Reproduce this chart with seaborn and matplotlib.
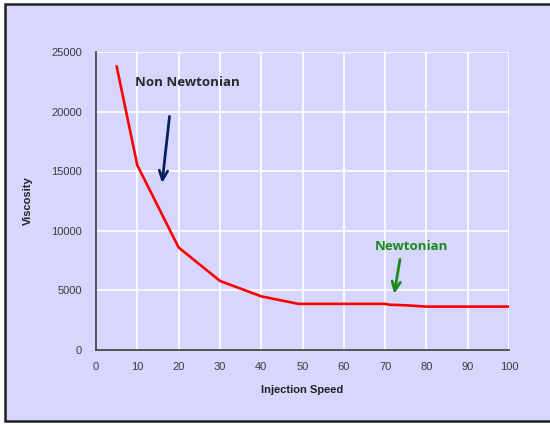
import matplotlib
matplotlib.use("Agg")
import matplotlib.pyplot as plt
from matplotlib.patches import Rectangle
import seaborn as sns
import pandas as pd

# Viscosity curve of the melt versus injection speed
injection_speed = [5, 10, 20, 30, 40, 49, 70, 71, 75, 80, 100]
viscosity = [23800, 15500, 8600, 5800, 4500, 3870, 3870, 3800, 3750, 3640, 3640]

x_ticks = [0, 10, 20, 30, 40, 50, 60, 70, 80, 90, 100]
y_ticks = [0, 5000, 10000, 15000, 20000, 25000]

bg = "#D6D6FE"
axis_col = "#3a3a3a"

sns.set_theme(style="white")
plt.rcParams["font.family"] = ["Liberation Sans", "DejaVu Sans"]

fig = plt.figure(figsize=(5.5, 4.25), dpi=100)
fig.patch.set_facecolor("white")
# lavender panel with a dark frame
fig.patches.append(Rectangle((5 / 550, 4 / 425), 1.0, 417 / 425,
                             transform=fig.transFigure, facecolor=bg,
                             edgecolor="#222222", linewidth=1.8, zorder=-5))

ax = fig.add_axes([96 / 550, 1 - 350 / 425, (509 - 96) / 550, (350 - 52) / 425])
ax.set_zorder(2)
ax.set_facecolor(bg)

df = pd.DataFrame({"Injection Speed": injection_speed, "Viscosity": viscosity})
sns.lineplot(data=df, x="Injection Speed", y="Viscosity", ax=ax,
             color="#FF0000", linewidth=1.9, zorder=3)

ax.set_xlim(0, 100)
ax.set_ylim(0, 25000)
ax.set_xticks(x_ticks)
ax.set_yticks(y_ticks)
ax.grid(True, color="white", linewidth=1.2)
ax.set_axisbelow(True)

for side in ("top", "right"):
    ax.spines[side].set_visible(False)
for side in ("left", "bottom"):
    ax.spines[side].set_color(axis_col)
    ax.spines[side].set_linewidth(1.2)

ax.tick_params(axis="both", direction="inout", length=8, width=1.1,
               color=axis_col, labelsize=8, labelcolor="#3c3c3c")
ax.tick_params(axis="y", pad=6)
ax.tick_params(axis="x", pad=5)

ax.set_xlabel("Injection Speed", fontsize=8, fontweight="bold", color="#222222", labelpad=9)
ax.set_ylabel("Viscosity", fontsize=8, fontweight="bold", color="#222222", labelpad=13)

# annotations for the two flow regimes
ax.text(9.4, 22400, "Non Newtonian", fontsize=9.5, fontweight="bold",
        color="#2a2a2a", family=["Open Sans", "DejaVu Sans"], va="center", ha="left")
ax.annotate("", xy=(16.0, 14000), xytext=(17.8, 19600),
            arrowprops=dict(arrowstyle="->,head_width=0.25,head_length=0.55",
                            color="#0B1F5E", lw=2.0, shrinkA=0, shrinkB=0))

ax.text(67.6, 8700, "Newtonian", fontsize=9.5, fontweight="bold",
        color="#1A8A1A", family=["Open Sans", "DejaVu Sans"], va="center", ha="left")
ax.annotate("", xy=(72.2, 4700), xytext=(73.6, 7600),
            arrowprops=dict(arrowstyle="->,head_width=0.25,head_length=0.55",
                            color="#1A8A1A", lw=2.0, shrinkA=0, shrinkB=0))

fig.savefig("out.png", dpi=100, facecolor=fig.get_facecolor())
